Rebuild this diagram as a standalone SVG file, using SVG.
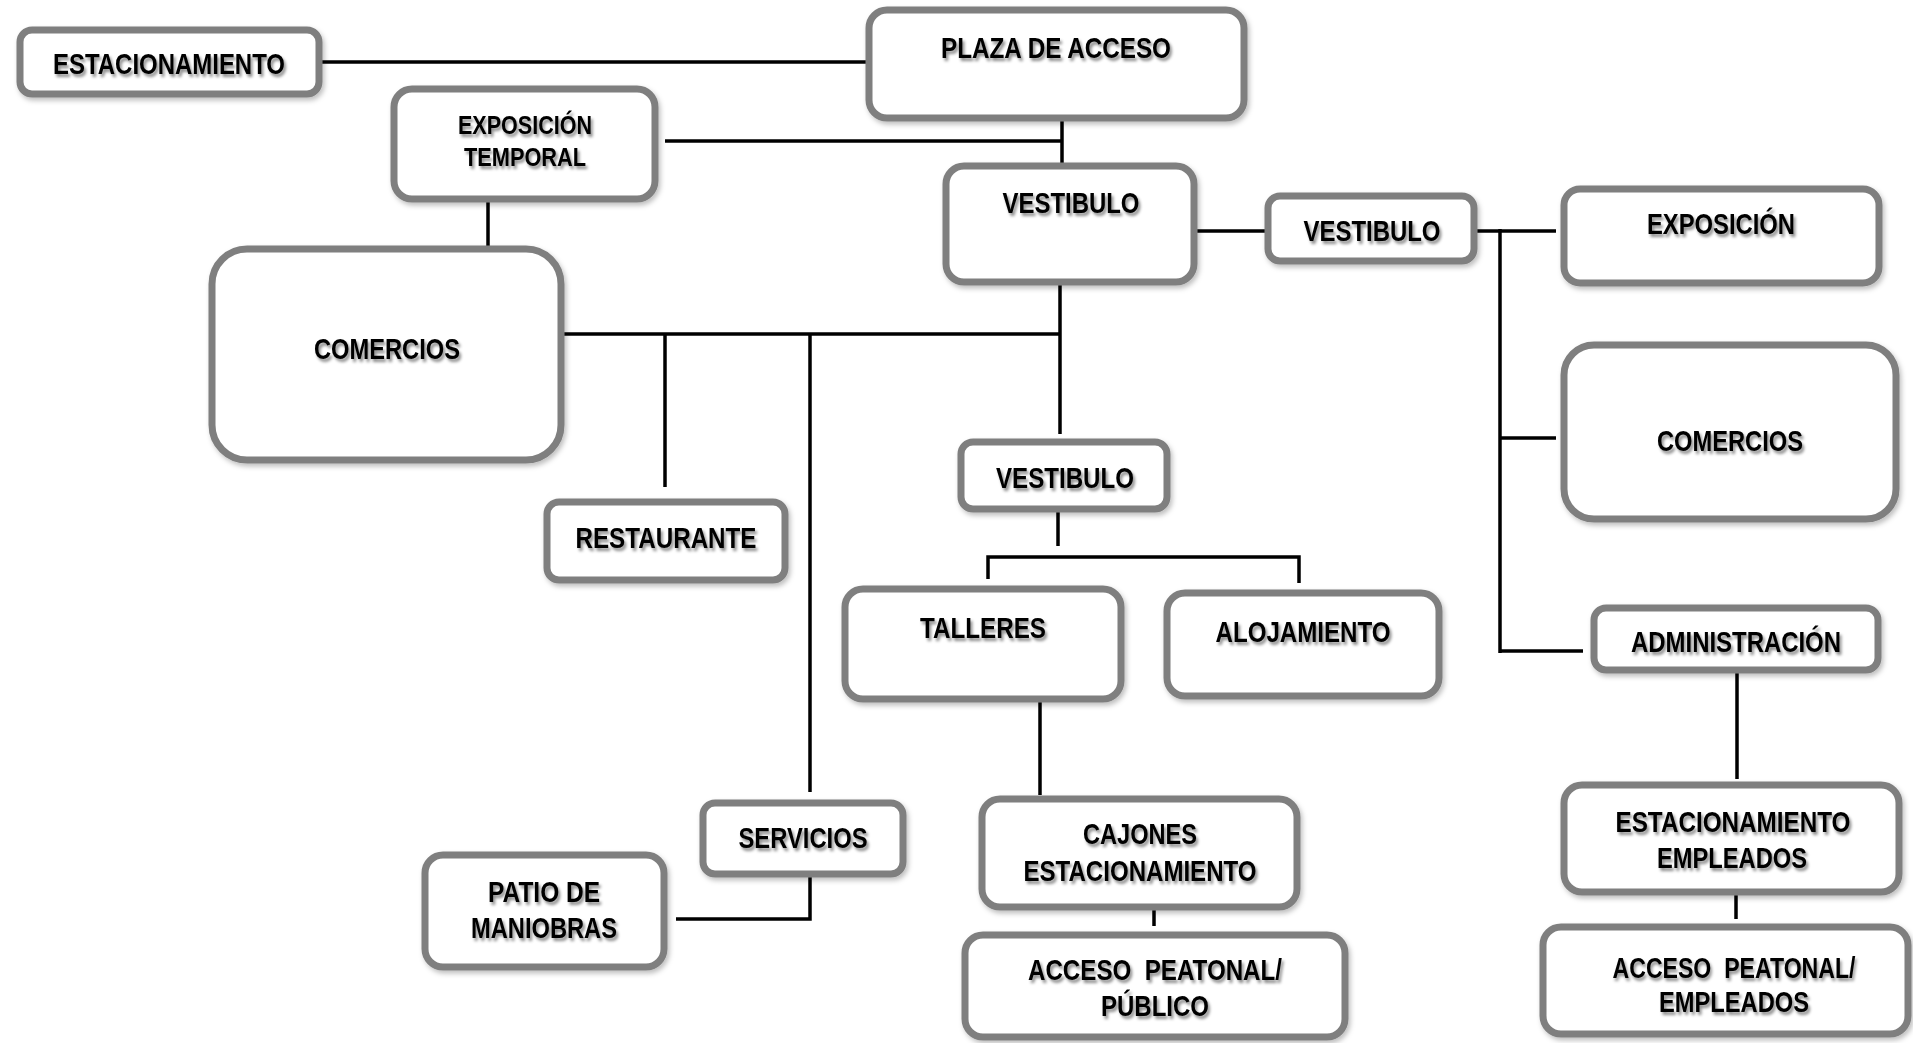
<svg xmlns="http://www.w3.org/2000/svg" width="1913" height="1043" viewBox="0 0 1913 1043">
<defs>
<filter id="ts" x="-10%" y="-40%" width="125%" height="190%"><feDropShadow dx="2" dy="3" stdDeviation="1.8" flood-color="#000" flood-opacity="0.45"/></filter>
<filter id="bs" x="-10%" y="-10%" width="125%" height="130%"><feDropShadow dx="2" dy="3" stdDeviation="2.5" flood-color="#000" flood-opacity="0.25"/></filter>
</defs>
<style>
.box{fill:#fff;stroke:#7f7f7f;stroke-width:7;filter:url(#bs)}
.t{font-family:"Liberation Sans",Arial,sans-serif;font-weight:bold;font-size:30px;fill:#000;text-anchor:middle;filter:url(#ts)}
.s{font-size:25px}
.c{fill:none;stroke:#000;stroke-width:3.5}
</style>
<rect width="1913" height="1043" fill="#fff"/>
<g id="connectors">
<path class="c" d="M321 62 H866"/>
<path class="c" d="M1062 118 V164"/>
<path class="c" d="M665 141 H1062"/>
<path class="c" d="M488 200 V248"/>
<path class="c" d="M1197 231 H1266"/>
<path class="c" d="M1474 231 H1556"/>
<path class="c" d="M1500 229 V653"/>
<path class="c" d="M1500 438 H1556"/>
<path class="c" d="M1500 651 H1583"/>
<path class="c" d="M1060 284 V434"/>
<path class="c" d="M564 334 H1060"/>
<path class="c" d="M665 334 V487"/>
<path class="c" d="M810 334 V792"/>
<path class="c" d="M1058 508 V546"/>
<path class="c" d="M988 579 V557 H1299 V583"/>
<path class="c" d="M1040 700 V795"/>
<path class="c" d="M1154 908 V926"/>
<path class="c" d="M810 874 V919 H676"/>
<path class="c" d="M1737 671 V779"/>
<path class="c" d="M1736 893 V919"/>
</g>
<g id="n-estacionamiento"><rect class="box" x="20" y="30" width="299" height="64" rx="12"/><text class="t" x="169" y="74" textLength="232" lengthAdjust="spacingAndGlyphs">ESTACIONAMIENTO</text></g>
<g id="n-plaza"><rect class="box" x="869" y="10" width="375" height="108" rx="18"/><text class="t" x="1056" y="58" textLength="230" lengthAdjust="spacingAndGlyphs">PLAZA DE ACCESO</text></g>
<g id="n-exposicion-temporal"><rect class="box" x="394" y="89" width="261" height="110" rx="18"/><text class="t s" x="525" y="134" textLength="134" lengthAdjust="spacingAndGlyphs">EXPOSICIÓN</text><text class="t s" x="525" y="166" textLength="122" lengthAdjust="spacingAndGlyphs">TEMPORAL</text></g>
<g id="n-vestibulo1"><rect class="box" x="946" y="166" width="248" height="116" rx="18"/><text class="t" x="1071" y="213" textLength="137" lengthAdjust="spacingAndGlyphs">VESTIBULO</text></g>
<g id="n-vestibulo2"><rect class="box" x="1268" y="196" width="206" height="65" rx="12"/><text class="t" x="1372" y="241" textLength="137" lengthAdjust="spacingAndGlyphs">VESTIBULO</text></g>
<g id="n-exposicion"><rect class="box" x="1564" y="189" width="315" height="94" rx="16"/><text class="t" x="1721" y="234" textLength="148" lengthAdjust="spacingAndGlyphs">EXPOSICIÓN</text></g>
<g id="n-comercios-der"><rect class="box" x="1564" y="345" width="332" height="174" rx="30"/><text class="t" x="1730" y="451" textLength="146" lengthAdjust="spacingAndGlyphs">COMERCIOS</text></g>
<g id="n-comercios-izq"><rect class="box" x="212" y="249" width="349" height="211" rx="35"/><text class="t" x="387" y="359" textLength="146" lengthAdjust="spacingAndGlyphs">COMERCIOS</text></g>
<g id="n-restaurante"><rect class="box" x="547" y="502" width="238" height="78" rx="12"/><text class="t" x="666" y="548" textLength="181" lengthAdjust="spacingAndGlyphs">RESTAURANTE</text></g>
<g id="n-vestibulo3"><rect class="box" x="961" y="442" width="206" height="67" rx="12"/><text class="t" x="1065" y="488" textLength="138" lengthAdjust="spacingAndGlyphs">VESTIBULO</text></g>
<g id="n-talleres"><rect class="box" x="845" y="589" width="276" height="110" rx="18"/><text class="t" x="983" y="638" textLength="126" lengthAdjust="spacingAndGlyphs">TALLERES</text></g>
<g id="n-alojamiento"><rect class="box" x="1167" y="593" width="272" height="103" rx="18"/><text class="t" x="1303" y="642" textLength="175" lengthAdjust="spacingAndGlyphs">ALOJAMIENTO</text></g>
<g id="n-administracion"><rect class="box" x="1594" y="608" width="284" height="62" rx="12"/><text class="t" x="1736" y="652" textLength="210" lengthAdjust="spacingAndGlyphs">ADMINISTRACIÓN</text></g>
<g id="n-servicios"><rect class="box" x="703" y="803" width="200" height="71" rx="12"/><text class="t" x="803" y="848" textLength="129" lengthAdjust="spacingAndGlyphs">SERVICIOS</text></g>
<g id="n-patio"><rect class="box" x="425" y="855" width="239" height="112" rx="18"/><text class="t" x="544" y="902" textLength="112" lengthAdjust="spacingAndGlyphs">PATIO DE</text><text class="t" x="544" y="938" textLength="146" lengthAdjust="spacingAndGlyphs">MANIOBRAS</text></g>
<g id="n-cajones"><rect class="box" x="982" y="799" width="315" height="108" rx="18"/><text class="t" x="1140" y="844" textLength="114" lengthAdjust="spacingAndGlyphs">CAJONES</text><text class="t" x="1140" y="881" textLength="233" lengthAdjust="spacingAndGlyphs">ESTACIONAMIENTO</text></g>
<g id="n-acceso-publico"><rect class="box" x="965" y="935" width="380" height="102" rx="18"/><text class="t" x="1155" y="980" textLength="254" lengthAdjust="spacingAndGlyphs" xml:space="preserve">ACCESO  PEATONAL/</text><text class="t" x="1155" y="1016" textLength="108" lengthAdjust="spacingAndGlyphs">PÚBLICO</text></g>
<g id="n-est-empleados"><rect class="box" x="1564" y="785" width="335" height="107" rx="18"/><text class="t" x="1733" y="832" textLength="235" lengthAdjust="spacingAndGlyphs">ESTACIONAMIENTO</text><text class="t" x="1732" y="868" textLength="150" lengthAdjust="spacingAndGlyphs">EMPLEADOS</text></g>
<g id="n-acceso-empleados"><rect class="box" x="1543" y="927" width="365" height="107" rx="18"/><text class="t" transform="translate(1734 978) scale(0.77 1)" x="0" y="0" xml:space="preserve">ACCESO  PEATONAL/</text><text class="t" x="1734" y="1012" textLength="150" lengthAdjust="spacingAndGlyphs">EMPLEADOS</text></g>
</svg>
